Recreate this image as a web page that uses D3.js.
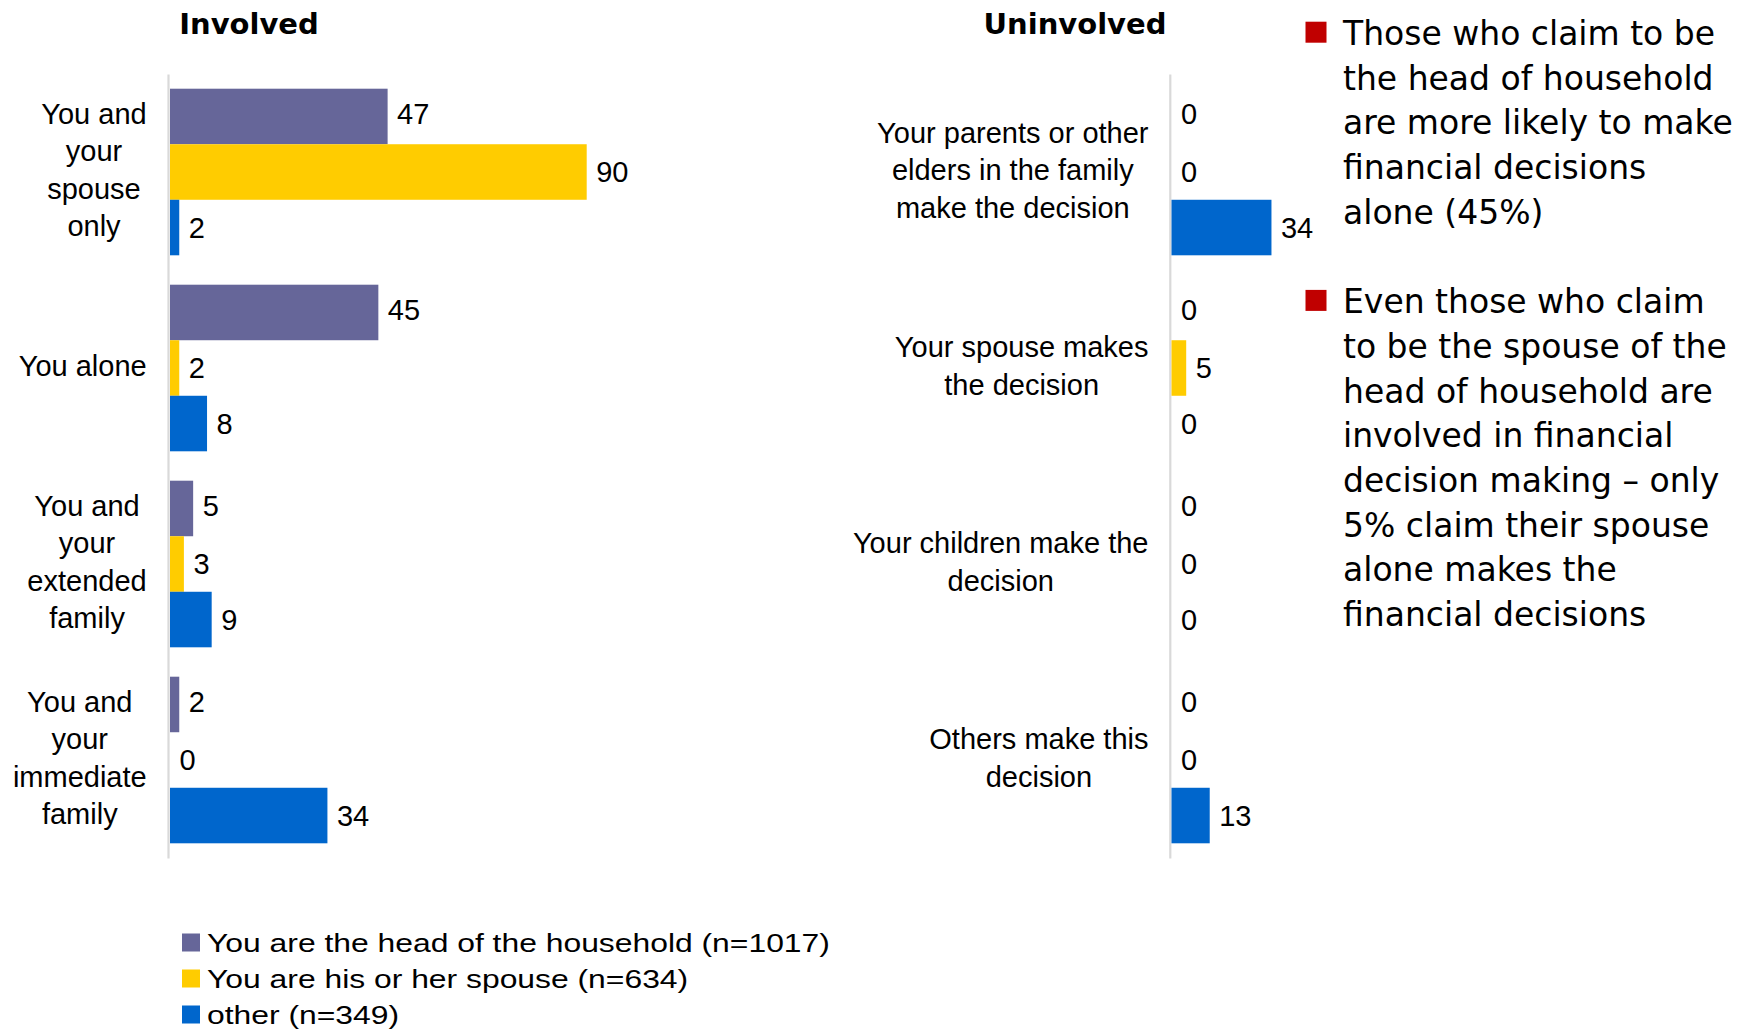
<!DOCTYPE html>
<html>
<head>
<meta charset="utf-8">
<script src="https://cdn.jsdelivr.net/npm/d3@7"></script>
<style>
  html, body { margin: 0; padding: 0; background: #fff; }
  svg { display: block; }
</style>
</head>
<body>
<svg id="chart" width="1747" height="1029"></svg>
<script>
// ---- data ----
const seriesKeys = ["head", "spouse", "other"];
const seriesNames = [
  "You are the head of the household (n=1017)",
  "You are his or her spouse (n=634)",
  "other (n=349)"
];
const seriesColors = ["#666699", "#FFCC00", "#0066CC"];

const involvedCategories = [
  ["You and", "your", "spouse", "only"],
  ["You alone"],
  ["You and", "your", "extended", "family"],
  ["You and", "your", "immediate", "family"]
];
const involvedHead   = [47, 45, 5, 2];
const involvedSpouse = [90, 2, 3, 0];
const involvedOther  = [2, 8, 9, 34];

const uninvolvedCategories = [
  ["Your parents or other", "elders in the family", "make the decision"],
  ["Your spouse makes", "the decision"],
  ["Your children make the", "decision"],
  ["Others make this", "decision"]
];
const uninvolvedHead   = [0, 0, 0, 0];
const uninvolvedSpouse = [0, 5, 0, 0];
const uninvolvedOther  = [34, 0, 0, 13];

const panelTitles = ["Involved", "Uninvolved"];

const notes = [
  ["Those who claim to be", "the head of household", "are more likely to make", "financial decisions", "alone (45%)"],
  ["Even those who claim", "to be the spouse of the", "head of household are", "involved in financial", "decision making \u2013 only", "5% claim their spouse", "alone makes the", "financial decisions"]
];

// ---- setup ----
const svg = d3.select("#chart");
const labelFont = "'Liberation Sans', Arial, sans-serif";
const noteFont = "'DejaVu Sans', Verdana, sans-serif";

const y = d3.scaleBand().domain(d3.range(4)).range([74, 858])
  .paddingInner(0.15).paddingOuter(0.075);
const ySub = d3.scaleBand().domain(seriesKeys).range([0, y.bandwidth()]);

// the first series' labels sit slightly above their bar centre
const labelShift = { head: -3.3, spouse: 0, other: 0 };

function rows(cats, head, spouse, other) {
  return cats.map((c, i) => ({
    idx: i, lines: c,
    values: [
      { key: "head", v: head[i] },
      { key: "spouse", v: spouse[i] },
      { key: "other", v: other[i] }
    ]
  }));
}

const panels = [
  {
    title: panelTitles[0], titleX: 249,
    x: d3.scaleLinear().domain([0, 100]).range([170, 633]),
    axisX: 168, labelRight: 146.7,
    data: rows(involvedCategories, involvedHead, involvedSpouse, involvedOther)
  },
  {
    title: panelTitles[1], titleX: 1075,
    x: d3.scaleLinear().domain([0, 100]).range([1171.5, 1465.5]),
    axisX: 1169.8, labelRight: 1148.5,
    data: rows(uninvolvedCategories, uninvolvedHead, uninvolvedSpouse, uninvolvedOther)
  }
];

const color = d3.scaleOrdinal().domain(seriesKeys).range(seriesColors);

panels.forEach(p => {
  const g = svg.append("g");

  // panel title
  g.append("text")
    .attr("x", p.titleX).attr("y", 33.5)
    .attr("text-anchor", "middle")
    .style("font-family", noteFont).style("font-weight", "bold")
    .style("font-size", "29px").attr("fill", "#000")
    .text(p.title);

  // category axis line
  const axis = g.append("g")
    .attr("transform", `translate(${p.axisX},0)`)
    .call(d3.axisLeft(y).tickSize(0).tickSizeOuter(0).tickFormat(""));
  axis.select(".domain").attr("stroke", "#D9D9D9").attr("stroke-width", 2.2);
  axis.selectAll(".tick").remove();

  const groups = g.selectAll("g.cat").data(p.data).enter().append("g")
    .attr("class", "cat")
    .attr("transform", d => `translate(0,${y(d.idx)})`);

  // bars
  groups.selectAll("rect").data(d => d.values).enter().append("rect")
    .attr("x", p.x(0))
    .attr("y", d => ySub(d.key))
    .attr("width", d => p.x(d.v) - p.x(0))
    .attr("height", ySub.bandwidth())
    .attr("fill", d => color(d.key));

  // value labels
  groups.selectAll("text.val").data(d => d.values).enter().append("text")
    .attr("class", "val")
    .attr("x", d => p.x(d.v) + 9.5)
    .attr("y", d => ySub(d.key) + ySub.bandwidth() / 2 + labelShift[d.key])
    .attr("dy", "0.36em")
    .style("font-family", labelFont).style("font-size", "29px")
    .attr("fill", "#000")
    .text(d => d.v);

  // category labels: lines centred within a right-aligned block
  const lh = 37.5;
  p.data.forEach(d => {
    const cy = y(d.idx) + y.bandwidth() / 2;
    const t = g.append("text")
      .style("font-family", labelFont).style("font-size", "29px")
      .attr("fill", "#000").attr("text-anchor", "middle");
    const spans = d.lines.map((line, i) =>
      t.append("tspan")
        .attr("y", cy + (i - (d.lines.length - 1) / 2) * lh + 8)
        .text(line));
    const maxW = d3.max(spans, s => s.node().getComputedTextLength());
    spans.forEach(s => s.attr("x", p.labelRight - maxW / 2));
  });
});

// ---- legend ----
const legend = svg.append("g");
seriesKeys.forEach((k, i) => {
  const cy = 942.5 + i * 36;
  legend.append("rect")
    .attr("x", 182).attr("y", cy - 9).attr("width", 18).attr("height", 18)
    .attr("fill", color(k));
  legend.append("g")
    .attr("transform", `translate(207,${cy + 9.5}) scale(1.225,1)`)
    .append("text")
    .style("font-family", labelFont).style("font-size", "26px")
    .attr("fill", "#000")
    .text(seriesNames[i]);
});

// ---- commentary bullets ----
const noteGroup = svg.append("g");
const noteStep = 44.7;
let lineNo = 0;
notes.forEach(para => {
  const base = 45 + lineNo * noteStep;
  noteGroup.append("rect")
    .attr("x", 1305.5).attr("y", base - 23.3)
    .attr("width", 21).attr("height", 21)
    .attr("fill", "#C00000");
  const t = noteGroup.append("text")
    .style("font-family", noteFont).style("font-size", "33px")
    .attr("fill", "#000");
  para.forEach((line, i) => {
    t.append("tspan").attr("x", 1343).attr("y", base + i * noteStep).text(line);
  });
  lineNo += para.length + 1;
});
</script>
</body>
</html>
